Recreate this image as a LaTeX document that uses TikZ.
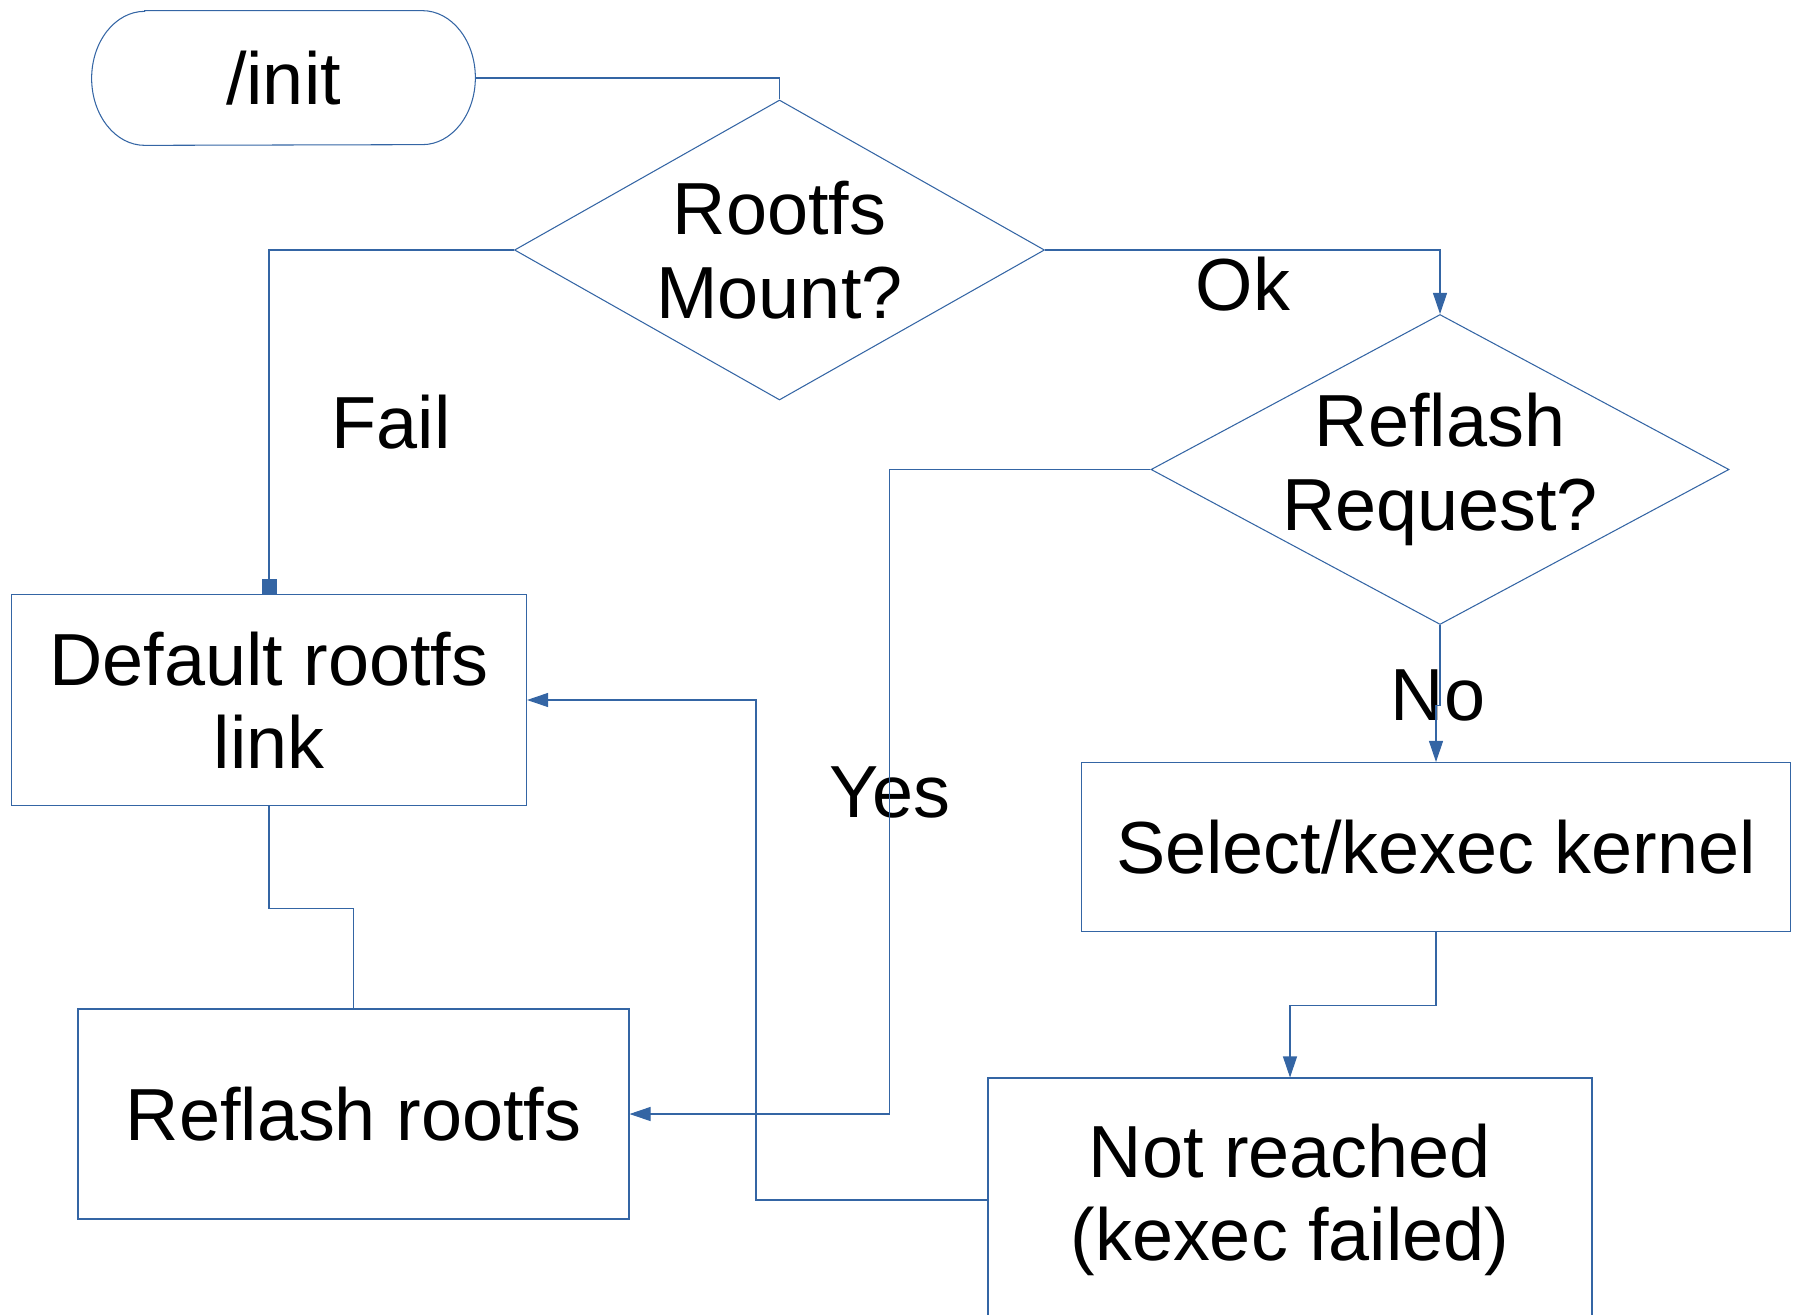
\documentclass[tikz,border=0pt]{standalone}
\usepackage{fontspec}
\setmainfont{Liberation Sans}
\usepackage{tikz}
\usetikzlibrary{shapes.geometric, arrows.meta, positioning, calc}
\definecolor{flowblue}{HTML}{3465A4}

\begin{document}
\begin{tikzpicture}[
  font=\fontsize{42}{47.5}\selectfont,
  line/.style={draw=flowblue, line width=0.6pt},
  arr/.style={line, -{Triangle[length=0.42cm, width=0.28cm]}},
  dot/.style={line, -{Square[length=0.3cm, width=0.3cm]}},
  procbox/.style={rectangle, line, inner sep=0pt, align=center},
  decision/.style={diamond, line, inner sep=-0.3cm, align=center},
  terminal/.style={rectangle, inner sep=0pt, minimum width=7.66cm, minimum height=2.68cm},
]
\useasboundingbox (0,0) rectangle (36,-26.3);

\node[terminal] (init) at (5.67,-1.56) {/init};
\node[decision, minimum width=10.6cm, minimum height=6cm, aspect=1.77] (mount) at (15.59,-5.0) {Rootfs\\Mount?};
\node[decision, minimum width=11.56cm, minimum height=6.2cm, aspect=1.86] (request) at (28.8,-9.39) {Reflash\\Request?};
\node[procbox, minimum width=10.3cm, minimum height=4.22cm] (deflink) at (5.38,-14.0) {Default rootfs\\link};
\node[procbox, minimum width=11.02cm, minimum height=4.2cm] (reflash) at (7.07,-22.28) {Reflash rootfs};
\node[procbox, minimum width=14.18cm, minimum height=3.38cm] (kexec) at (28.72,-16.94) {Select/kexec kernel};
\node[procbox, minimum width=12.08cm, minimum height=4.88cm] (notreached) at (25.8,-24.0) {Not reached\\(kexec failed)};

% edge labels
\node (fail) at (7.82,-8.44) {Fail};
\node (ok) at (24.86,-5.68) {Ok};
\node (yes) at (17.8,-15.84) {Yes};
\node (no) at (28.76,-13.9) {No};

% terminator outline
\draw[line] ([xshift=1.06cm]init.north west) -- ([xshift=-1.06cm]init.north east)
  arc[start angle=90, end angle=-90, x radius=1.06cm, y radius=1.34cm]
  -- ([xshift=1.06cm]init.south west)
  arc[start angle=270, end angle=90, x radius=1.06cm, y radius=1.34cm] -- cycle;

\draw[line] (init.east) -| (mount.north);
\draw[dot] (mount.west) -| (deflink.north);
\draw[arr] (mount.east) -| (request.north);
\draw[arr] (request.west) -- ++(-5.22,0) |- (reflash.east);
\draw[arr] (request.south) -- ++(0,-1.6) -| (kexec.north);
\draw[arr] (kexec.south) -- ++(0,-1.47) -| (notreached.north);
\draw[arr] (notreached.west) -- ++(-4.63,0) |- (deflink.east);
\draw[line] (deflink.south) -- ++(0,-2.04) -| (reflash.north);
\end{tikzpicture}
\end{document}
